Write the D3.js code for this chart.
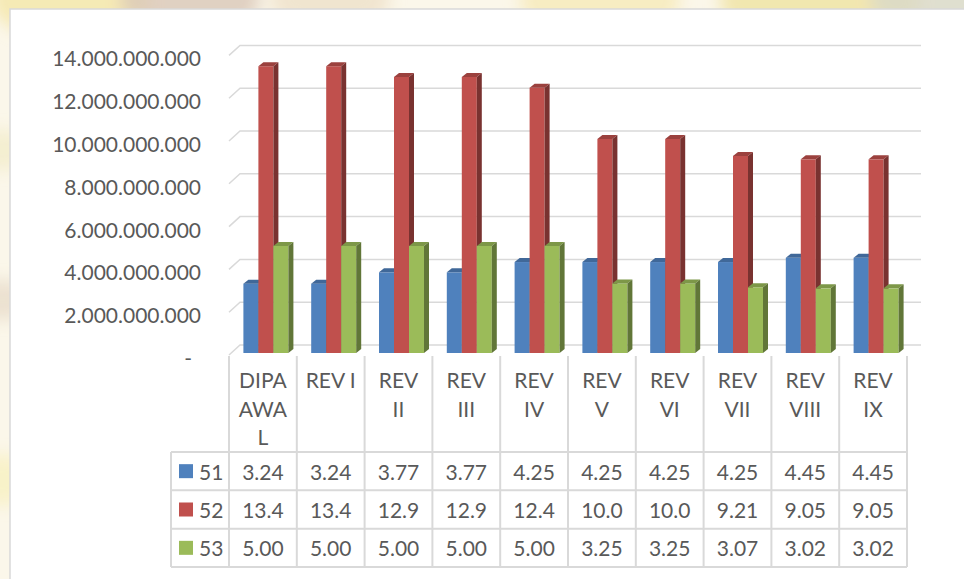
<!DOCTYPE html>
<html>
<head>
<meta charset="utf-8">
<script src="https://cdn.jsdelivr.net/npm/d3@7"></script>
<style>
  html, body { margin: 0; padding: 0; background: #fbf7ea; }
  svg { display: block; }
  text { font-family: Lato, "Noto Sans", sans-serif; fill: #595959; }
</style>
</head>
<body>
<svg id="canvas" width="964" height="579"></svg>
<script>
// data
let categories = ['DIPA AWAL', 'REV I', 'REV II', 'REV III', 'REV IV', 'REV V', 'REV VI', 'REV VII', 'REV VIII', 'REV IX']
let series = ['51', '52', '53']
let values51 = [3.24e9, 3.24e9, 3.77e9, 3.77e9, 4.25e9, 4.25e9, 4.25e9, 4.25e9, 4.45e9, 4.45e9]
let values52 = [13.4e9, 13.4e9, 12.9e9, 12.9e9, 12.4e9, 10.0e9, 10.0e9, 9.21e9, 9.05e9, 9.05e9]
let values53 = [5.00e9, 5.00e9, 5.00e9, 5.00e9, 5.00e9, 3.25e9, 3.25e9, 3.07e9, 3.02e9, 3.02e9]
let colors = ['#4f81bd', '#c0504d', '#9bbb59']
let yTicks = [0, 2e9, 4e9, 6e9, 8e9, 10e9, 12e9, 14e9]

let allValues = [values51, values52, values53]

let canvas = d3.select('#canvas')

// faded picture behind the chart
let defs = canvas.append('defs')
defs.append('filter').attr('id', 'blur')
    .append('feGaussianBlur').attr('stdDeviation', 8)
let blobs = [[70, 0, 40, '#f4e6a8'], [190, 0, 35, '#d9c7b8'], [330, 0, 30, '#eee0c8'],
             [600, 0, 40, '#f6eab8'], [820, 0, 50, '#efe2a0'], [930, 0, 30, '#d8d8c8'],
             [0, 150, 20, '#f3eccb'], [0, 300, 20, '#e8dccb'], [0, 480, 25, '#f7f0c0']]
canvas.append('g').attr('filter', 'url(#blur)')
    .selectAll('ellipse').data(blobs).enter().append('ellipse')
    .attr('cx', d => d[0]).attr('cy', d => d[1])
    .attr('rx', d => d[2] * 2).attr('ry', d => d[2])
    .attr('fill', d => d[3]).attr('opacity', 0.8)

canvas.append('rect')
    .attr('x', 10).attr('y', 9).attr('width', 980).attr('height', 600)
    .attr('fill', '#ffffff').attr('stroke', '#d9d9d9').attr('stroke-width', 1.5)

// scales
let x = d3.scaleBand().domain(categories).range([229, 907])
let y = d3.scaleLinear().domain([0, 14e9]).range([355, 55.4])
let sub = d3.scaleBand().domain(series).range([0, 45])

let backDx = 11, backDy = -10
let barDx = 5, barDy = -4

// gridlines (back wall + left side)
canvas.append('g').selectAll('path').data(yTicks).enter().append('path')
    .attr('d', (t) => {
        let yy = y(t)
        return 'M229,' + yy + 'L' + (229 + backDx) + ',' + (yy + backDy) + 'L921,' + (yy + backDy)
    })
    .attr('fill', 'none').attr('stroke', '#d9d9d9').attr('stroke-width', 1.5)

let loc = d3.formatLocale({decimal: ',', thousands: '.', grouping: [3], currency: ['', '']})
let fmt = loc.format(',')

canvas.append('g').selectAll('text').data(yTicks).enter().append('text')
    .attr('x', (t) => t === 0 ? 192 : 201)
    .attr('y', (t) => y(t) + 2.5)
    .attr('text-anchor', 'end')
    .attr('dominant-baseline', 'central')
    .style('font-size', '21px')
    .text((t) => t === 0 ? '-' : fmt(t))

// bars
let bars = canvas.append('g')
categories.forEach((cat, i) => {
    series.forEach((s, j) => {
        let v = allValues[j][i]
        let w = sub.bandwidth()
        let x0 = x(cat) + x.bandwidth() / 2 - 19.5 + sub(s)
        let top = y(v) - 2
        let bot = y(0) - 2
        let c = d3.color(colors[j])
        bars.append('rect')
            .attr('x', x0).attr('y', top).attr('width', w).attr('height', bot - top)
            .attr('fill', colors[j])
        bars.append('path')
            .attr('d', 'M' + x0 + ',' + top + 'L' + (x0 + barDx) + ',' + (top + barDy) +
                'L' + (x0 + w + barDx) + ',' + (top + barDy) + 'L' + (x0 + w) + ',' + top + 'Z')
            .attr('fill', c.darker(0.6))
        bars.append('path')
            .attr('d', 'M' + (x0 + w) + ',' + top + 'L' + (x0 + w + barDx) + ',' + (top + barDy) +
                'L' + (x0 + w + barDx) + ',' + (bot + barDy) + 'L' + (x0 + w) + ',' + bot + 'Z')
            .attr('fill', c.darker(1.3))
    })
})

// data table
let rowY = d3.scaleBand().domain(series).range([452, 567])
let table = canvas.append('g')
let lineColor = '#d9d9d9'

let colEdges = categories.map(c => x(c)).concat([907])
table.selectAll('.vline').data(colEdges).enter().append('line')
    .attr('x1', d => d).attr('x2', d => d).attr('y1', 356).attr('y2', 567)
    .attr('stroke', lineColor).attr('stroke-width', 2)
table.append('line')
    .attr('x1', 171).attr('x2', 171).attr('y1', 452).attr('y2', 567)
    .attr('stroke', lineColor).attr('stroke-width', 2)
let rowEdges = series.map(s => rowY(s)).concat([567])
table.selectAll('.hline').data(rowEdges).enter().append('line')
    .attr('x1', 171).attr('x2', 907).attr('y1', d => d).attr('y2', d => d)
    .attr('stroke', lineColor).attr('stroke-width', 2)

// category labels, wrapped to the column width
let wrapWidth = 51
categories.forEach((cat) => {
    let t = table.append('text')
        .attr('x', x(cat) + x.bandwidth() / 2)
        .attr('text-anchor', 'middle')
        .style('font-size', '21px')
    let probe = t.append('tspan')
    let measure = (s) => { probe.text(s); return probe.node().getComputedTextLength() }
    let lines = []
    let words = cat.split(' ')
    let cur = ''
    words.forEach((wd) => {
        let trial = cur ? cur + ' ' + wd : wd
        if (measure(trial) <= wrapWidth) {
            cur = trial
        } else {
            if (cur) lines.push(cur)
            cur = ''
            let piece = ''
            for (let ch of wd) {
                if (measure(piece + ch) <= wrapWidth || piece === '') piece += ch
                else { lines.push(piece); piece = ch }
            }
            cur = piece
        }
    })
    if (cur) lines.push(cur)
    probe.remove()
    lines.forEach((ln, k) => {
        t.append('tspan')
            .attr('x', x(cat) + x.bandwidth() / 2)
            .attr('y', 388 + k * 28.5)
            .text(ln)
    })
})

// legend keys and values
let fmtVal = d3.format('.3r')
series.forEach((s, j) => {
    let cy = rowY(s) + rowY.bandwidth() / 2
    table.append('rect')
        .attr('x', 179).attr('y', cy - 7).attr('width', 14).attr('height', 14)
        .attr('fill', colors[j])
    table.append('text')
        .attr('x', 199).attr('y', cy)
        .attr('dominant-baseline', 'central')
        .style('font-size', '21px')
        .text(s)
    categories.forEach((cat, i) => {
        table.append('text')
            .attr('x', x(cat) + x.bandwidth() / 2)
            .attr('y', cy)
            .attr('text-anchor', 'middle')
            .attr('dominant-baseline', 'central')
            .style('font-size', '21px')
            .text(fmtVal(allValues[j][i] / 1e9))
    })
})
</script>
</body>
</html>
